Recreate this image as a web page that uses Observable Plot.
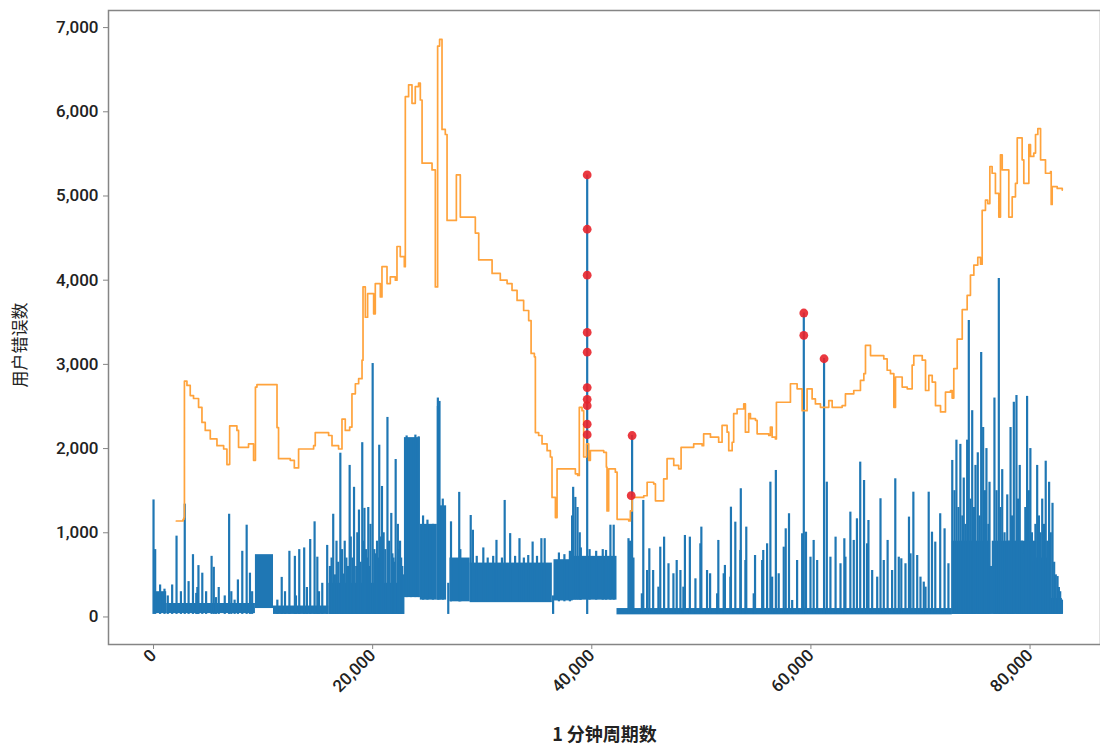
<!DOCTYPE html>
<html><head><meta charset="utf-8">
<script src="https://cdn.jsdelivr.net/npm/d3@7"></script>
<script src="https://cdn.jsdelivr.net/npm/@observablehq/plot@0.6"></script>
<style>body{margin:0;background:#fff;}</style>
</head><body><div id="chart"></div>
<script>
const xTicks = [0, 20000, 40000, 60000, 80000];
const yTicks = [0, 1000, 2000, 3000, 4000, 5000, 6000, 7000];
const xLabel = "1 分钟周期数";
const yLabel = "用户错误数";

// orange threshold line [x, value]
const threshold = [[2080,1140],[2700,1160],[2780,1180],[2820,2800],[3050,2750],[3350,2630],[3650,2595],[4110,2490],[4420,2310],[4720,2215],[5180,2115],[5790,2035],[6400,1995],[6700,1810],[6900,1815],[6950,2270],[7500,2270],[7610,2215],[7760,2015],[8670,2055],[9130,1860],[9250,1860],[9300,2730],[9440,2760],[10960,2760],[11270,2250],[11410,1880],[12480,1860],[12850,1770],[13240,1995],[14610,2035],[14760,2190],[15980,2155],[16290,2035],[16890,1995],[17200,2350],[17500,2215],[17900,2255],[18110,2650],[18420,2770],[18720,2830],[19030,3050],[19120,3920],[19330,3560],[19540,3840],[20090,3600],[20240,3960],[20700,3800],[20850,4160],[21310,3960],[21610,4040],[22070,4000],[22220,4400],[22520,4280],[22890,4160],[22980,6180],[23280,6320],[23590,6100],[23890,6300],[24190,6340],[24350,6140],[24510,5390],[25260,5390],[25420,5310],[25720,3920],[25930,6780],[26110,6860],[26330,5790],[26630,5730],[26790,4710],[27390,4710],[27640,5250],[27850,5250],[28000,4750],[28920,4750],[29370,4560],[29680,4240],[30590,4240],[30900,4080],[31650,4000],[32270,3960],[32720,3880],[33180,3760],[33780,3640],[34240,3520],[34460,3130],[34760,3090],[34850,2190],[35150,2155],[35460,2055],[35920,1975],[36220,1900],[36370,1420],[36680,1180],[36830,1760],[37740,1760],[38500,1700],[38710,1680],[38860,2490],[39110,2450],[39260,1900],[39510,2055],[39720,1860],[39870,1975],[41090,1955],[41330,1780],[41390,1260],[41540,1760],[42150,1720],[42310,1160],[43370,1140],[43520,1260],[43680,1420],[44740,1440],[45050,1600],[45650,1580],[45810,1380],[46260,1380],[46560,1640],[46870,1880],[47480,1800],[47930,1760],[48150,2015],[49000,2015],[49300,2055],[50070,2035],[50210,2175],[50830,2135],[51580,2075],[51890,2275],[52350,2195],[52500,1975],[52810,2075],[52950,2415],[53260,2470],[53870,2530],[54020,2195],[54320,2415],[54480,2355],[54940,2335],[55090,2175],[56150,2155],[56300,2255],[56460,2135],[56760,2115],[56850,2550],[57670,2550],[58130,2770],[58740,2710],[59200,2450],[59650,2710],[60110,2590],[60410,2530],[60870,2490],[61630,2570],[61940,2490],[62850,2510],[63150,2650],[63910,2690],[64520,2810],[64830,2890],[64980,3225],[65280,3225],[65440,3105],[66650,3065],[66960,2930],[67260,2890],[67570,2490],[67720,2850],[68330,2730],[68790,2710],[69240,2990],[69390,3105],[70160,3050],[70460,2690],[70760,2870],[71070,2790],[71370,2510],[71830,2435],[72280,2670],[72740,2690],[72890,2600],[73040,2950],[73350,3300],[73810,3650],[74260,3820],[74560,4060],[74870,4180],[75230,4270],[75480,4190],[75630,4830],[75930,4950],[76140,4910],[76330,5350],[76540,5270],[76840,5030],[77150,4750],[77300,5490],[77460,5310],[77910,5310],[78060,4750],[78370,4990],[78670,5150],[78830,5690],[79280,5430],[79430,5150],[79890,5610],[80040,5470],[80340,5510],[80500,5730],[80710,5800],[80960,5430],[81410,5270],[81870,5290],[81930,4900],[82020,5110],[82480,5090],[82940,5070]];

// dense blue masses [x1, x2, low, high]
const blueBands = [[0,1200,40,300],[1200,9300,40,160],[9300,10950,100,740],[10950,16000,30,130],[16000,22900,30,400],[22900,24350,230,2130],[24350,25900,200,1100],[25900,26150,200,2500],[26150,26750,200,1320],[27050,28900,180,700],[28900,36400,170,640],[36550,38300,190,680],[38300,42300,200,720],[42300,72900,25,100],[72900,76350,30,900],[76550,80500,30,900],[80500,81700,30,700],[81700,82950,30,220]];

// blue spikes rising from the baseline [x, peak]
const blueSpikes = [[0,1390],[150,800],[600,380],[1000,330],[1300,250],[1700,380],[2100,960],[2500,300],[2850,1340],[3200,420],[3600,740],[3900,280],[4000,350],[4100,610],[4450,520],[4800,300],[5300,720],[5500,590],[5700,230],[5950,350],[6500,250],[6900,1220],[7100,300],[7400,200],[7700,440],[8100,780],[8500,1090],[8800,520],[9000,300],[11300,200],[11700,470],[12000,300],[12400,780],[12900,720],[13000,250],[13300,800],[13750,820],[14000,350],[14300,920],[14700,1130],[14950,710],[15100,300],[15400,400],[15850,850],[16100,600],[16250,700],[16400,1220],[16550,500],[16700,900],[16850,650],[17050,1945],[17200,800],[17350,510],[17450,900],[17600,700],[17750,600],[17900,1800],[18000,950],[18150,700],[18300,1540],[18500,600],[18600,1000],[18750,1270],[18900,650],[19050,2070],[19150,900],[19250,1290],[19400,800],[19500,700],[19600,1300],[19700,600],[19800,1100],[20000,3010],[20150,800],[20250,750],[20400,900],[20500,700],[20600,2040],[20750,950],[20850,1550],[21000,1000],[21150,800],[21350,2370],[21500,900],[21700,1230],[21800,750],[21900,700],[22000,650],[22100,1870],[22300,1100],[22400,800],[22500,900],[22600,700],[22700,600],[22800,500],
[39580,5250],
[43350,930],[43500,900],[43680,2155],[43800,700],[44570,275],[44700,1384],[45050,552],[45250,810],[45600,552],[46080,354],[46250,829],[46600,948],[47000,632],[47450,513],[47750,671],[48090,552],[48360,354],[48500,968],[48950,948],[49460,453],[49910,869],[50000,1067],[50520,552],[50800,513],[51440,275],[51550,909],[52040,513],[52150,612],[52650,473],[52700,1304],[53100,1126],[53560,790],[53600,1523],[54020,671],[54100,1067],[54780,275],[54900,730],[55550,671],[55650,790],[56000,869],[56300,1601],[56460,473],[56800,1740],[57060,513],[57520,829],[57700,1047],[58000,1226],[58290,196],[58740,671],[59200,988],[59350,3610],[59550,1007],[59960,710],[60250,909],[60570,671],[61200,3070],[61450,1601],[61780,710],[62250,948],[62700,632],[63050,929],[63150,710],[63600,1245],[63910,909],[64200,1166],[64500,1839],[64850,1621],[65130,869],[65250,1146],[65590,552],[66050,473],[66350,1404],[66650,671],[67000,909],[67410,552],[67700,1641],[68020,710],[68250,691],[68630,632],[68950,1186],[69090,750],[69350,1482],[69700,730],[70000,473],[70300,414],[70460,354],[70750,1482],[71050,1007],[71350,889],[71800,1226],[72200,1047],[72550,632],[72900,1859],
[73100,1500],[73280,2100],[73460,1300],[73640,2050],[73820,1200],[73950,1650],[74100,1100],[74260,2100],[74410,3520],[74560,1400],[74720,2450],[74880,1300],[75020,1800],[75230,1950],[75390,1200],[75540,3140],[75720,2250],[75890,1500],[76020,2000],[76200,1100],[76300,1600],[76430,600],[76750,2600],[76940,1500],[77150,4020],[77300,1300],[77460,1750],[77670,1000],[77920,1450],[78080,900],[78220,2250],[78350,1200],[78520,2550],[78760,2630],[78900,1400],[79060,1800],[79260,900],[79420,750],[79570,1300],[79730,2620],[79890,1500],[80030,2000],[80170,1000],[80340,650],[80490,1100],[80650,1800],[80810,1200],[80950,1000],[81110,1400],[81270,1100],[81430,1850],[81570,900],[81740,1600],[81890,1000],[82050,1350],[82200,650],[82350,500],[82510,480],[82630,350],[82750,300],[82910,200]];

// blue spikes standing on a raised mass [x, low, peak]
const blueRaised = [[23100,230,2150],[23500,230,2120],[23900,230,2160],[24200,230,2140],[24600,200,1200],[25000,200,1150],[25500,200,1100],[25950,200,2600],[26100,200,2560],[26400,200,1400],[26900,30,400],[27150,180,1130],[27900,180,1480],[28000,180,800],[28950,180,1205],[29150,180,1030],[29500,180,720],[30100,180,820],[30500,180,700],[31000,180,720],[31300,180,910],[31800,180,700],[32050,180,1384],[32550,180,990],[33000,180,720],[33400,180,930],[33800,180,700],[34200,180,730],[34600,180,890],[35000,180,720],[35400,180,930],[35700,180,930],[36470,30,250],[37000,180,760],[37500,180,740],[38000,180,780],[38200,200,1200],[38300,200,1540],[38500,200,1420],[38700,200,1300],[38900,200,1000],[39000,200,820],[39800,200,800],[40400,200,780],[41000,200,800],[41300,200,790],[41700,200,1090],[42000,200,1090]];

// anomalies (red points) [x, value]
const anomalies = [[39580,5250],[39580,4605],[39580,4060],[39580,3380],[39580,3145],[39580,2725],[39580,2585],[39580,2510],[39580,2290],[39580,2165],[43680,2155],[43600,1440],[59350,3610],[59350,3345],[61200,3067]];

const blue = "#1f77b4";
const chart = Plot.plot({
  width: 1100, height: 749,
  marginLeft: 108, marginRight: 0, marginTop: 10, marginBottom: 105,
  style: {fontFamily: "Roboto, 'Noto Sans CJK SC', sans-serif", background: "#fff", color: "#222"},
  x: {domain: [-4110, 86430]},
  y: {domain: [-327, 7203]},
  marks: [
    Plot.rect(blueBands, {x1: d => d[0], x2: d => d[1], y1: d => d[2], y2: d => d[3], fill: blue}),
    Plot.ruleX(blueSpikes, {x: d => d[0], y1: 30, y2: d => d[1], stroke: blue, strokeWidth: 2.2}),
    Plot.ruleX(blueRaised, {x: d => d[0], y1: d => d[1], y2: d => d[2], stroke: blue, strokeWidth: 2.2}),
    Plot.line(threshold, {x: d => d[0], y: d => d[1], curve: "step-after", stroke: "#ffa33c", strokeWidth: 1.7}),
    Plot.dot(anomalies, {x: d => d[0], y: d => d[1], r: 4.4, fill: "#e8232b", fillOpacity: 0.9}),
    Plot.frame({stroke: "#858585", strokeWidth: 1.5}),
    Plot.axisY(yTicks, {tickFormat: d3.format(","), tickSize: 5, tickPadding: 5, fontSize: 17, fontWeight: 500, stroke: "#858585", fill: "#222", label: null}),
    Plot.axisX(xTicks, {tickFormat: d3.format(","), tickSize: 5, tickPadding: 3, tickRotate: -45, fontSize: 17, fontWeight: 500, stroke: "#858585", fill: "#222", label: null}),
    Plot.text([xLabel], {frameAnchor: "bottom", dy: 96, fontSize: 18, fontWeight: 600, fill: "#222", fontFamily: "'Noto Sans CJK SC', sans-serif"}),
    Plot.text([yLabel], {frameAnchor: "left", dx: -88, dy: 60, rotate: -90, fontSize: 17, fill: "#222", fontFamily: "'Noto Sans CJK SC', sans-serif"})
  ]
});
document.getElementById("chart").appendChild(chart);
</script>
</body></html>
